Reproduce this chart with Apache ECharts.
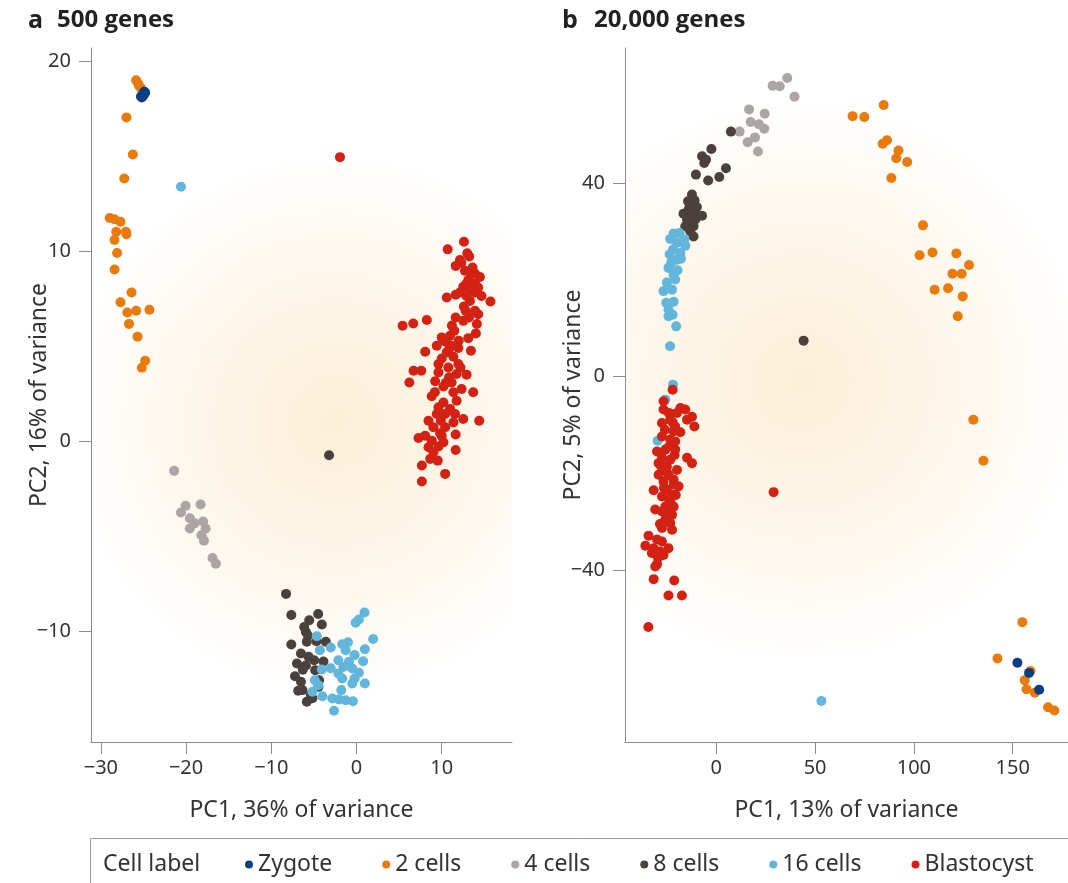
<!DOCTYPE html>
<html>
<head>
<meta charset="utf-8">
<script src="https://cdn.jsdelivr.net/npm/echarts@6/dist/echarts.min.js"></script>
<style>html,body{margin:0;padding:0;background:#fff;}#c{width:1068px;height:883px;}</style>
</head>
<body>
<div id="c"></div>
<script>
// ---- labels ----
const classNames = ['Zygote', '2 cells', '4 cells', '8 cells', '16 cells', 'Blastocyst'];
const panelATitle = '500 genes';
const panelBTitle = '20,000 genes';
const aXName = 'PC1, 36% of variance';
const aYName = 'PC2, 16% of variance';
const bXName = 'PC1, 13% of variance';
const bYName = 'PC2, 5% of variance';
const aXTicks = [-30, -20, -10, 0, 10];
const aYTicks = [-10, 0, 10, 20];
const bXTicks = [0, 50, 100, 150];
const bYTicks = [-40, 0, 40];

// ---- panel a (500 genes) ----
const aZygote = [[-25.1,18.25],[-25.2,18.1],[-24.8,18.35],[-25.0,18.2],[-24.9,18.4],[-25.3,18.15]];
const a2cells = [[-25.86,19.0],[-25.6,18.8],[-25.3,18.6],[-25.5,18.7],[-27.0,17.05],[-26.25,15.1],[-27.26,13.84],
  [-28.97,11.76],[-28.4,11.69],[-27.7,11.56],[-28.2,11.04],[-27.06,11.04],[-27.0,10.9],[-28.4,10.6],[-28.1,9.92],
  [-28.4,9.05],[-26.4,7.84],[-27.7,7.33],[-26.9,6.79],[-25.86,6.88],[-24.3,6.93],[-26.7,6.19],[-25.7,5.51],[-24.8,4.25],[-25.2,3.88]];
const a4cells = [[-21.4,-1.54],[-20.06,-3.38],[-20.6,-3.73],[-18.3,-3.31],[-19.56,-4.03],[-18.0,-4.2],[-19.0,-4.3],
  [-17.7,-4.57],[-19.56,-4.57],[-18.2,-4.93],[-17.9,-5.21],[-16.9,-6.12],[-16.5,-6.42]];
const a8cells = [[-3.22,-0.72],[-8.27,-8.01],[-7.65,-9.12],[-4.5,-9.07],[-5.55,-9.4],[-4.07,-9.62],[-5.94,-10.01],
  [-7.65,-10.67],[-5.83,-10.53],[-4.7,-10.5],[-3.6,-10.53],[-6.52,-11.15],[-5.63,-11.32],[-4.97,-11.5],[-3.88,-11.57],
  [-6.99,-11.67],[-5.94,-11.78],[-4.85,-12.02],[-7.22,-12.34],[-6.52,-12.63],[-4.47,-12.9],[-6.34,-13.07],[-5.36,-13.33],
  [-5.83,-13.68],[-5.17,-13.5],[-6.84,-13.1],[-4.39,-12.55],[-6.14,-9.75],[-5.7,-10.2],[-6.3,-12.0]];
const a16cells = [[-20.6,13.4],[0.94,-8.99],[0.28,-9.36],[-0.1,-9.53],[1.95,-10.38],[-4.66,-10.24],[-1.0,-10.55],[-1.67,-10.66],
  [-3.02,-10.83],[-4.3,-10.97],[0.98,-10.92],[-1.27,-10.97],[-0.22,-11.23],[-2.13,-11.5],[0.78,-11.55],[-0.89,-11.58],
  [-1.55,-11.85],[-0.5,-11.93],[-3.02,-11.92],[-4.07,-11.99],[0.28,-12.16],[-2.13,-12.2],[-1.67,-12.46],[-0.22,-12.46],
  [0.98,-12.72],[-0.5,-12.72],[-4.89,-12.55],[-4.47,-12.81],[-1.79,-13.07],[-5.17,-13.16],[-4.0,-13.39],[-2.84,-13.51],
  [-2.05,-13.56],[-1.27,-13.6],[-0.42,-13.66],[-2.64,-14.16]];
const aBlasto = [[-1.94,14.96],[12.61,10.51],[10.7,10.11],[13.23,9.73],[12.14,9.55],[11.64,9.24],[13.62,9.15],[12.73,8.98],
  [13.9,8.84],[14.48,8.66],[13.12,8.49],[13.9,8.31],[12.53,8.14],[13.31,8.01],[14.28,8.1],[12.14,7.84],[13.9,7.84],
  [12.92,7.66],[14.67,7.66],[11.64,7.72],[10.59,7.58],[15.72,7.37],[13.31,7.4],[12.8,6.88],[13.9,6.88],[14.28,6.7],
  [11.64,6.53],[12.53,6.35],[13.2,6.53],[5.41,6.09],[6.66,6.21],[8.25,6.39],[14.13,6.18],[11.48,5.83],[14.01,5.69],
  [10.98,5.56],[10.0,5.48],[13.12,5.44],[10.4,5.27],[9.42,5.04],[11.1,5.04],[11.95,4.92],[13.43,4.78],[8.06,4.72],
  [10.59,4.69],[11.37,4.46],[10.0,4.37],[9.62,4.08],[11.95,4.08],[10.78,3.9],[6.7,3.73],[7.6,3.73],[9.62,3.64],
  [11.75,3.55],[12.92,3.52],[10.86,3.38],[9.23,3.17],[6.2,3.11],[11.17,3.11],[12.33,2.77],[13.7,2.59],[11.37,2.59],
  [8.83,2.38],[11.75,2.15],[10.2,2.06],[9.62,1.8],[10.98,1.72],[11.56,1.45],[10.4,1.45],[12.53,1.19],[14.4,1.1],
  [9.42,1.45],[11.37,1.01],[8.45,1.1],[9.03,0.75],[10.4,0.75],[9.81,0.44],[11.64,0.37],[7.28,0.19],[8.06,0.31],
  [8.83,0.05],[10.2,-0.04],[9.62,-0.26],[8.45,-0.3],[11.64,-0.44],[9.03,-0.56],[8.65,-0.91],[9.53,-1.0],[7.67,-1.26],
  [10.4,-1.7],[7.67,-2.1],[12.3,9.4],[13.5,8.8],[12.6,7.1],[10.9,4.9],[12.2,3.9],[10.2,2.9],[9.9,1.1],
  [11.2,6.1],[12.0,5.3],[10.5,3.1],[9.2,2.6],[10.0,0.3],[13.0,9.9],[12.9,8.3]];

// ---- panel b (20,000 genes) ----
const bZygote = [[152.4,-59.2],[158.3,-61.3],[163.4,-64.8]];
const b2cells = [[84.7,56.2],[69.0,53.9],[74.9,53.7],[86.4,48.9],[84.2,48.2],[92.2,46.8],[91.1,45.2],[96.6,44.4],[88.6,41.1],
  [104.6,31.3],[102.9,25.1],[109.4,25.7],[121.5,25.5],[127.9,23.1],[119.5,21.3],[124.2,21.3],[110.5,18.0],[117.3,18.3],
  [124.7,16.6],[122.2,12.5],[130.1,-8.9],[135.2,-17.4],[154.9,-50.8],[142.3,-58.3],[159.0,-60.9],[156.1,-62.8],
  [157.0,-64.7],[161.2,-65.4],[167.9,-68.4],[171.1,-69.1]];
const b4cells = [[35.9,61.8],[32.1,60.1],[28.5,60.2],[39.6,57.9],[16.6,55.3],[24.5,54.4],[17.4,52.7],[21.6,52.2],
  [24.3,51.3],[11.8,50.7],[19.6,49.5],[15.9,48.5],[21.1,46.6]];
const b8cells = [[44.2,7.45],[7.4,50.7],[-2.5,47.1],[-7.2,45.6],[-5.2,44.9],[-6.1,44.2],[4.9,43.1],[1.5,41.3],[-10.3,41.8],
  [-4.1,40.6],[-12.3,37.7],[-14.3,36.3],[-9.8,35.1],[-16.6,33.7],[-12.7,33.9],[-7.2,33.3],[-14.8,32.5],[-10.6,32.5],
  [-15.7,31.1],[-11.5,31.1],[-13.2,30.1],[-11.5,29.0],[-14.0,34.6],[-12.1,32.0],[-9.8,33.3],[-13.5,35.5],[-11.0,36.5]];
const b16cells = [[53.2,-67.1],[-21.6,29.6],[-18.6,29.7],[-23.3,28.5],[-16.2,28.4],[-19.9,27.7],[-15.7,27.1],[-21.9,26.3],
  [-18.2,25.6],[-23.6,25.3],[-19.9,24.2],[-17.9,24.4],[-22.9,23.5],[-24.2,22.5],[-19.6,22.0],[-21.6,21.1],[-20.8,20.1],
  [-25.0,19.5],[-22.4,18.0],[-26.7,17.7],[-25.3,15.3],[-21.6,15.5],[-24.2,13.9],[-22.1,12.8],[-24.2,12.5],[-20.3,10.4],
  [-23.4,6.3],[-21.9,-1.66],[-25.8,-4.76],[-29.7,-13.25]];
const bBlasto = [[29.0,-23.9],[-34.4,-51.8],[-22.1,-2.7],[-26.7,-5.1],[-26.7,-6.8],[-18.2,-6.5],[-15.7,-6.8],[-19.9,-7.5],
  [-12.3,-8.3],[-14.8,-8.9],[-11.1,-10.3],[-23.3,-8.9],[-27.5,-9.6],[-20.8,-10.3],[-21.6,-11.3],[-18.2,-11.5],
  [-27.5,-12.4],[-23.3,-13.0],[-20.8,-13.4],[-30.0,-15.5],[-25.8,-15.1],[-20.8,-15.1],[-27.5,-16.8],[-23.3,-17.2],
  [-14.8,-16.8],[-12.3,-17.9],[-29.2,-17.9],[-25.0,-18.6],[-19.9,-19.3],[-29.2,-20.3],[-24.2,-20.3],[-21.6,-21.3],
  [-26.7,-21.7],[-19.1,-22.7],[-31.7,-23.5],[-25.0,-23.4],[-22.4,-24.4],[-27.5,-24.8],[-23.3,-25.8],[-25.8,-26.9],
  [-21.6,-26.9],[-30.9,-27.5],[-27.5,-27.9],[-22.4,-28.6],[-25.8,-29.6],[-23.3,-30.3],[-27.5,-31.3],[-22.4,-31.7],
  [-34.3,-32.9],[-30.0,-33.7],[-35.9,-35.0],[-27.5,-34.1],[-31.7,-35.5],[-24.2,-35.5],[-28.4,-36.2],[-32.6,-36.5],
  [-26.7,-36.9],[-30.9,-39.3],[-30.0,-38.8],[-31.7,-41.9],[-21.3,-42.2],[-24.2,-45.3],[-17.4,-45.3],
  [-23.8,-14.4],[-21.1,-16.2],[-25.2,-19.6],[-21.5,-22.3],[-23.9,-25.5],[-26.0,-11.0],[-22.0,-9.5],[-24.5,-28.0],
  [-24.0,-7.5],[-28.0,-18.5],[-26.5,-23.0],[-20.5,-24.5],[-28.5,-30.5],[-29.5,-37.5]];

const colors = {
  'Zygote': '#0a3e82', '2 cells': '#e97a0c', '4 cells': '#aba5a4',
  '8 cells': '#4a403d', '16 cells': '#62b6db', 'Blastocyst': '#d32214'
};

const chart = echarts.init(document.getElementById('c'), null, {renderer: 'canvas'});
const tickFont = {fontFamily: 'Noto Sans', fontSize: 20, color: '#333'};
const minusFmt = v => String(v).replace('-', '\u2212');
const nameFont = {fontFamily: 'Noto Sans', fontSize: 23, color: '#333'};

function xAxisOf(grid, min, max, ticks, name) {
  return {
    type: 'value', gridIndex: grid, min: min, max: max, splitLine: {show: false},
    axisLine: {show: true, onZero: false, lineStyle: {color: '#8c8c8c', width: 1}},
    axisTick: {show: true, length: 12, customValues: ticks, lineStyle: {color: '#8c8c8c'}},
    axisLabel: Object.assign({customValues: ticks, margin: 16, formatter: minusFmt}, tickFont),
    name: name, nameLocation: 'middle', nameGap: 57, nameMoveOverlap: false,
    nameTextStyle: nameFont
  };
}
function yAxisOf(grid, min, max, ticks, name) {
  return {
    type: 'value', gridIndex: grid, min: min, max: max, splitLine: {show: false},
    axisLine: {show: true, onZero: false, lineStyle: {color: '#8c8c8c', width: 1}},
    axisTick: {show: true, length: 12, customValues: ticks, lineStyle: {color: '#8c8c8c'}},
    axisLabel: Object.assign({customValues: ticks, margin: 20, formatter: minusFmt}, tickFont),
    name: name, nameLocation: 'middle', nameGap: 40, nameMoveOverlap: false,
    nameTextStyle: nameFont
  };
}

const order = ['2 cells', 'Zygote', '4 cells', '8 cells', '16 cells', 'Blastocyst'];
const dataA = {'Zygote': aZygote, '2 cells': a2cells, '4 cells': a4cells, '8 cells': a8cells, '16 cells': a16cells, 'Blastocyst': aBlasto};
const dataB = {'Zygote': bZygote, '2 cells': b2cells, '4 cells': b4cells, '8 cells': b8cells, '16 cells': b16cells, 'Blastocyst': bBlasto};
const series = [];
[dataA, dataB].forEach((d, gi) => {
  order.forEach(n => {
    series.push({
      type: 'scatter', name: n, xAxisIndex: gi, yAxisIndex: gi, data: d[n],
      symbolSize: 10, itemStyle: {color: colors[n], opacity: 1}, emphasis: {disabled: true}, z: 3
    });
  });
});

const gridA = {left: 91, top: 48, width: 421, height: 694};
const gridB = {left: 625, top: 48, width: 443, height: 694};

function glow(g, cx, cy, r) {
  return {
    type: 'rect', z: -10, silent: true,
    shape: {x: g.left, y: g.top, width: g.width, height: g.height},
    style: {fill: {type: 'radial', x: cx, y: cy, r: r, colorStops: [
      {offset: 0, color: 'rgba(252,239,214,1)'},
      {offset: 0.5, color: 'rgba(253,246,233,1)'},
      {offset: 1, color: 'rgba(255,255,255,1)'}]}}
  };
}

chart.setOption({
  backgroundColor: '#ffffff',
  animation: false,
  color: classNames.map(n => colors[n]),
  grid: [gridA, gridB],
  xAxis: [xAxisOf(0, -31.16, 18.25, aXTicks, aXName), xAxisOf(1, -46.2, 178, bXTicks, bXName)],
  yAxis: [yAxisOf(0, -15.8, 20.7, aYTicks, aYName), yAxisOf(1, -75.6, 68, bYTicks, bYName)],
  legend: {
    data: classNames, left: 245, top: 853, padding: 0, itemGap: 50,
    icon: 'circle', itemWidth: 8, itemHeight: 8,
    textStyle: {fontFamily: 'Noto Sans', fontSize: 23, color: '#333'}
  },
  graphic: [
    glow(gridA, 0.58, 0.54, 0.64),
    glow(gridB, 0.40, 0.48, 0.64),
    {type: 'text', left: 28, top: 8, style: {text: 'a', font: 'bold 25px "Open Sans"', fill: '#222'}},
    {type: 'text', left: 57, top: 8, style: {text: panelATitle, font: 'bold 24px "Open Sans"', fill: '#222'}},
    {type: 'text', left: 562, top: 8, style: {text: 'b', font: 'bold 25px "Open Sans"', fill: '#222'}},
    {type: 'text', left: 594, top: 8, style: {text: panelBTitle, font: 'bold 24px "Open Sans"', fill: '#222'}},
    {type: 'rect', silent: true, shape: {x: 90.5, y: 838.5, width: 1000, height: 60},
      style: {fill: 'none', stroke: '#9a9a9a', lineWidth: 1}},
    {type: 'text', left: 103, top: 853, style: {text: 'Cell label', font: '23px "Noto Sans"', fill: '#333'}}
  ],
  series: series
});
</script>
</body>
</html>
